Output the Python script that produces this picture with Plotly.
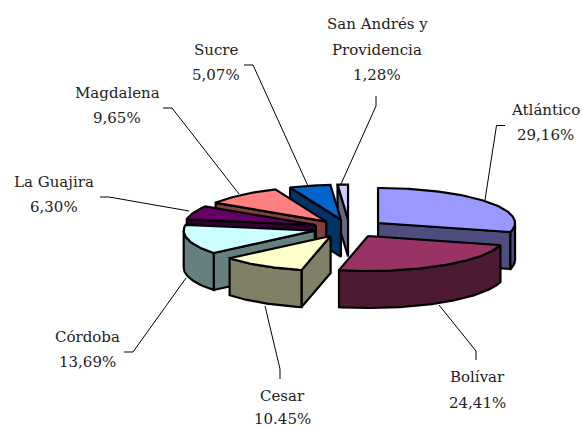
import math
import plotly.graph_objects as go

# --- data ---
departments = ["Atlántico", "Bolívar", "Cesar", "Córdoba", "La Guajira", "Magdalena", "Sucre", "San Andrés y<br>Providencia"]
shares = [29.16, 24.41, 10.45, 13.69, 6.30, 9.65, 5.07, 1.28]
share_labels = ["29,16%", "24,41%", "10.45%", "13,69%", "6,30%", "9,65%", "5,07%", "1,28%"]

# --- styles ---
top_colors = ["#9999FF", "#993366", "#FFFFCC", "#CCFFFF", "#660066", "#FF8080", "#0066CC", "#CCCCFF"]
wall_colors = ["#4D4D80", "#4D1A33", "#808066", "#668080", "#330033", "#804040", "#003366", "#666680"]
draw_order = [7, 6, 0, 5, 4, 3, 1, 2]

# --- projection constants ---
CX, CY = 349.5, 228.4
RX_RIGHT, RX_LEFT, RY = 137.0, 131.0, 35.0
EXPLODE_X, EXPLODE_Y = 36.0, 8.9
DEPTH = 37.0

label_x = [545, 477, 282, 87, 54, 117, 216, 377]
label_line_y = [[110, 135], [377, 403], [396, 419], [337, 362], [182, 207], [93, 118], [50, 75], [24, 50, 75]]
leaders = [
    [(505, 125.5), (496.5, 125.5), (485, 200)],
    [(476, 360), (476, 351), (439, 305)],
    [(280, 379), (280, 369), (265, 306)],
    [(124, 352), (133, 352), (186, 278)],
    [(100, 197), (109, 197), (189, 211)],
    [(163, 108), (172, 108), (239, 194)],
    [(244, 65), (253, 65), (308, 186)],
    [(376, 96), (376, 106), (341, 184)],
]

fig = go.Figure()
total = sum(shares)
starts = []
acc = 0.0
for v in shares:
    starts.append(acc)
    acc += v / total * 360.0


def solid(i):
    a0 = starts[i]
    a1 = a0 + shares[i] / total * 360.0
    mid = math.radians((a0 + a1) / 2)
    ox = CX + EXPLODE_X * math.sin(mid)
    oy = CY - EXPLODE_Y * math.cos(mid)
    return a0, a1, ox, oy


def rim(ox, oy, deg):
    t = math.radians(deg)
    s = math.sin(t)
    return ox + (RX_RIGHT if s >= 0 else RX_LEFT) * s, oy - RY * math.cos(t)


def poly(xs, ys, color, name):
    fig.add_trace(go.Scatter(x=xs + xs[:1], y=ys + ys[:1], mode="lines", fill="toself",
                             fillcolor=color, line=dict(color="black", width=2.2),
                             name=name, showlegend=False, hoverinfo="name"))


def radial_wall(ox, oy, a, color, name):
    px, py = rim(ox, oy, a)
    poly([ox, px, px, ox], [oy, py, py + DEPTH, oy + DEPTH], color, name)


# leader lines sit behind the slices
for path in leaders:
    fig.add_trace(go.Scatter(x=[p[0] for p in path], y=[p[1] for p in path], mode="lines",
                             line=dict(color="black", width=1), showlegend=False, hoverinfo="skip"))

for i in draw_order:
    a0, a1, ox, oy = solid(i)
    name = departments[i].replace("<br>", " ")
    # only the radial walls that face the viewer
    if math.sin(math.radians(a0)) < -1e-9:
        radial_wall(ox, oy, a0, wall_colors[i], name)
    if math.sin(math.radians(a1)) > 1e-9:
        radial_wall(ox, oy, a1, wall_colors[i], name)
    # outer wall
    w0, w1 = max(a0, 90.0), min(a1, 270.0)
    if w1 > w0:
        n = max(2, int(w1 - w0) + 1)
        arc = [w0 + (w1 - w0) * k / (n - 1) for k in range(n)]
        pts = [rim(ox, oy, a) for a in arc]
        xs = [p[0] for p in pts] + [p[0] for p in reversed(pts)]
        ys = [p[1] for p in pts] + [p[1] + DEPTH for p in reversed(pts)]
        poly(xs, ys, wall_colors[i], name)
    # top face
    n = max(2, int(a1 - a0) + 1)
    pts = [rim(ox, oy, a0 + (a1 - a0) * k / (n - 1)) for k in range(n)]
    poly([ox] + [p[0] for p in pts], [oy] + [p[1] for p in pts], top_colors[i], name)

for i, x in enumerate(label_x):
    lines = departments[i].split("<br>") + [share_labels[i]]
    for text, y in zip(lines, label_line_y[i]):
        fig.add_annotation(x=x, y=y, text=text, showarrow=False, xanchor="center", yanchor="middle",
                           height=16, valign="middle",
                           font=dict(family="DejaVu Serif", size=15, color="#222222"))

fig.update_xaxes(range=[0, 582], visible=False, fixedrange=True)
fig.update_yaxes(range=[427, 0], visible=False, fixedrange=True)
fig.update_layout(width=582, height=427, margin=dict(l=0, r=0, t=0, b=0),
                  paper_bgcolor="white", plot_bgcolor="white", showlegend=False)
fig.write_html("out.html", config={"displayModeBar": False},
               post_script="document.body.style.margin='0';document.documentElement.style.overflow='hidden';")
